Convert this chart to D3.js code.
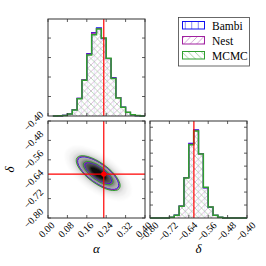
<!DOCTYPE html>
<html>
<head>
<meta charset="utf-8">
<script src="https://d3js.org/d3.v7.min.js"></script>
<style>
  body { margin: 0; background: #fff; }
  text { font-family: "Liberation Serif", "DejaVu Serif", serif; fill: #000; }
</style>
</head>
<body>
<div class="corner-chart"></div>
<script>
// histogram bins, alpha (density)
var alphaEdges = [0.02, 0.04, 0.06, 0.08, 0.10, 0.12, 0.14, 0.16, 0.18, 0.20, 0.22, 0.24, 0.26, 0.28, 0.30, 0.32, 0.34, 0.36, 0.38, 0.40];
var alphaBambi = [0, 0.02, 0.07, 0.22, 0.66, 1.82, 3.72, 6.40, 8.55, 9.05, 7.95, 5.90, 3.95, 1.90, 0.92, 0.36, 0.13, 0.04, 0];
var alphaNest  = [0, 0.02, 0.06, 0.21, 0.64, 1.80, 3.70, 6.35, 8.50, 8.98, 7.98, 5.88, 3.88, 1.88, 0.90, 0.38, 0.14, 0.04, 0];
var alphaMCMC  = [0, 0.02, 0.06, 0.20, 0.62, 1.76, 3.66, 6.26, 8.34, 8.92, 8.00, 5.92, 3.84, 1.86, 0.90, 0.38, 0.14, 0.04, 0];

// histogram bins, delta (density)
var deltaEdges = [-0.80, -0.78, -0.76, -0.74, -0.72, -0.70, -0.68, -0.66, -0.64, -0.62, -0.60, -0.58, -0.56, -0.54, -0.52, -0.50, -0.48, -0.46, -0.44, -0.42, -0.40];
var deltaBambi = [0, 0, 0, 0, 0.10, 0.45, 1.85, 6.25, 11.5, 13.6, 9.95, 4.65, 1.65, 0.40, 0.10, 0, 0, 0, 0, 0];
var deltaNest  = [0, 0, 0, 0, 0.10, 0.42, 1.82, 6.20, 11.4, 13.5, 9.90, 4.70, 1.72, 0.42, 0.10, 0, 0, 0, 0, 0];
var deltaMCMC  = [0, 0, 0, 0, 0.10, 0.41, 1.80, 6.17, 11.3, 13.4, 9.87, 4.73, 1.70, 0.41, 0.10, 0, 0, 0, 0, 0];

// 2d density, read as nested levels (semi axes in alpha units)
var densCenter = [0.207, -0.615];
var densTilt = 36;
var densLevel = [0.06, 0.14, 0.26, 0.42, 0.58, 0.76, 0.97];
var densMajor = [0.160, 0.140, 0.122, 0.104, 0.084, 0.064, 0.044];
var densMinor = [0.074, 0.062, 0.051, 0.042, 0.034, 0.026, 0.018];

// contours per method: [outer, inner]
var contMajor = { Bambi: [0.101, 0.066], Nest: [0.104, 0.069], MCMC: [0.108, 0.073] };
var contMinor = { Bambi: [0.039, 0.025], Nest: [0.040, 0.026], MCMC: [0.042, 0.028] };

var truth = [0.23, -0.619];
var alphaTicks = [0.00, 0.08, 0.16, 0.24, 0.32, 0.40];
var deltaTicks = [-0.80, -0.72, -0.64, -0.56, -0.48, -0.40];
var methods = ["Bambi", "Nest", "MCMC"];

var width = 266, height = 266;
var svg = d3.select(".corner-chart").append("svg")
    .attr("width", width).attr("height", height);

var colors = { Bambi: "#1010f0", Nest: "#a020a0", MCMC: "#2f9f2f" };
var hatchColor = { Bambi: "#d0d0f8", Nest: "#cf9acf", MCMC: "#9ccc9c" };

// panels
var c0 = 48, c1 = 150, r0 = 19, r1 = 121, size = 97;

var xA = d3.scaleLinear().domain([0, 0.4]).range([c0, c0 + size]);
var yD = d3.scaleLinear().domain([-0.8, -0.4]).range([r1 + size, r1]);
var xD = d3.scaleLinear().domain([-0.8, -0.4]).range([c1, c1 + size]);
var yHa = d3.scaleLinear().domain([0, 1.1 * d3.max(alphaBambi.concat(alphaNest, alphaMCMC))]).range([r0 + size, r0]);
var yHd = d3.scaleLinear().domain([0, 1.1 * d3.max(deltaBambi.concat(deltaNest, deltaMCMC))]).range([r1 + size, r1]);

var defs = svg.append("defs");
function hatch(id, color, kind, w) {
  var p = defs.append("pattern").attr("id", id)
      .attr("patternUnits", "userSpaceOnUse").attr("width", 6.5).attr("height", 6.5);
  var n = 6.5, segs;
  if (kind == "|") segs = [[n / 2, 0, n / 2, n]];
  else if (kind == "/") segs = [[0, n, n, 0], [-1, 1, 1, -1], [n - 1, n + 1, n + 1, n - 1]];
  else segs = [[0, 0, n, n], [n - 1, -1, n + 1, 1], [-1, n - 1, 1, n + 1]];
  segs.forEach(function(s) {
    p.append("line").attr("x1", s[0]).attr("y1", s[1]).attr("x2", s[2]).attr("y2", s[3])
      .attr("stroke", color).attr("stroke-width", w);
  });
}
hatch("h-Bambi", hatchColor.Bambi, "|", 0.4);
hatch("h-Nest", hatchColor.Nest, "/", 0.7);
hatch("h-MCMC", hatchColor.MCMC, "\\", 0.7);
hatch("l-Bambi", "#5a5af0", "|", 0.7);
hatch("l-Nest", "#c98ac9", "/", 0.8);
hatch("l-MCMC", "#8cc68c", "\\", 0.8);
defs.append("filter").attr("id", "blur").attr("x", "-20%").attr("y", "-20%").attr("width", "140%").attr("height", "140%")
  .append("feGaussianBlur").attr("stdDeviation", 1.0);
defs.append("clipPath").attr("id", "clip2d").append("rect")
  .attr("x", c0).attr("y", r1).attr("width", size).attr("height", size);

function stepPath(edges, vals, x, y) {
  var pts = [[edges[0], 0]];
  vals.forEach(function(v, i) { pts.push([edges[i], v]); pts.push([edges[i + 1], v]); });
  pts.push([edges[edges.length - 1], 0]);
  return d3.line().x(function(d) { return x(d[0]); }).y(function(d) { return y(d[1]); })(pts);
}

function drawHist(edges, series, x, y) {
  var g = svg.append("g");
  methods.forEach(function(m) {
    g.append("path").attr("d", stepPath(edges, series[m], x, y))
      .attr("fill", "url(#h-" + m + ")").attr("stroke", "none");
  });
  methods.forEach(function(m) {
    g.append("path").attr("d", stepPath(edges, series[m], x, y))
      .attr("fill", "none").attr("stroke", colors[m])
      .attr("stroke-width", m == "MCMC" ? 1.5 : 1.2);
  });
}

drawHist(alphaEdges, { Bambi: alphaBambi, Nest: alphaNest, MCMC: alphaMCMC }, xA, yHa);
drawHist(deltaEdges, { Bambi: deltaBambi, Nest: deltaNest, MCMC: deltaMCMC }, xD, yHd);

// 2d panel
var k = xA(1) - xA(0);
var cx = xA(densCenter[0]), cy = yD(densCenter[1]);
var grey = d3.scaleSequential(d3.interpolateGreys).domain([0, 1]);
var g2 = svg.append("g").attr("clip-path", "url(#clip2d)");
var dens = g2.append("g").attr("filter", "url(#blur)");
densLevel.forEach(function(l, i) {
  dens.append("ellipse").attr("cx", cx).attr("cy", cy)
    .attr("rx", densMajor[i] * k).attr("ry", densMinor[i] * k)
    .attr("transform", "rotate(" + densTilt + "," + cx + "," + cy + ")")
    .attr("fill", grey(l));
});
methods.forEach(function(m) {
  contMajor[m].forEach(function(a, i) {
    g2.append("ellipse").attr("cx", cx).attr("cy", cy)
      .attr("rx", a * k).attr("ry", contMinor[m][i] * k)
      .attr("transform", "rotate(" + densTilt + "," + cx + "," + cy + ")")
      .attr("fill", "none").attr("stroke", colors[m]).attr("stroke-width", 0.9);
  });
});
g2.append("line").attr("x1", xA(truth[0])).attr("x2", xA(truth[0]))
  .attr("y1", r1).attr("y2", r1 + size).attr("stroke", "#ff0000").attr("stroke-width", 1.2);
g2.append("line").attr("x1", c0).attr("x2", c0 + size)
  .attr("y1", yD(truth[1])).attr("y2", yD(truth[1])).attr("stroke", "#ff0000").attr("stroke-width", 1.2);
g2.append("circle").attr("cx", xA(truth[0])).attr("cy", yD(truth[1])).attr("r", 2.6).attr("fill", "#ff0000");

// truth lines on histograms
svg.append("line").attr("x1", xA(truth[0])).attr("x2", xA(truth[0]))
  .attr("y1", r0).attr("y2", r0 + size).attr("stroke", "#ff0000").attr("stroke-width", 1.2);
svg.append("line").attr("x1", xD(truth[1])).attr("x2", xD(truth[1]))
  .attr("y1", r1).attr("y2", r1 + size).attr("stroke", "#ff0000").attr("stroke-width", 1.2);

// frames with inward ticks on all sides
function frame(x0, y0, xs, xt, ys, yt) {
  var g = svg.append("g").attr("stroke", "#333").attr("stroke-width", 0.8);
  xt.forEach(function(t) {
    var px = xs(t);
    g.append("line").attr("x1", px).attr("x2", px).attr("y1", y0 + size).attr("y2", y0 + size - 3);
    g.append("line").attr("x1", px).attr("x2", px).attr("y1", y0).attr("y2", y0 + 3);
  });
  yt.forEach(function(t) {
    var py = ys(t);
    g.append("line").attr("x1", x0).attr("x2", x0 + 3).attr("y1", py).attr("y2", py);
    g.append("line").attr("x1", x0 + size).attr("x2", x0 + size - 3).attr("y1", py).attr("y2", py);
  });
  g.append("rect").attr("x", x0).attr("y", y0).attr("width", size).attr("height", size)
    .attr("fill", "none").attr("stroke", "#333").attr("stroke-width", 1);
}
frame(c0, r0, xA, alphaTicks, yHa, d3.range(2, yHa.domain()[1], 2));
frame(c0, r1, xA, alphaTicks, yD, deltaTicks);
frame(c1, r1, xD, deltaTicks, yHd, d3.range(2, yHd.domain()[1], 2));

// rotated tick labels
var fmt = function(v) { return d3.format(".2f")(v).replace("-", "\u2212"); };
var fs = 10, s2 = Math.SQRT2;
function xLabels(ticks, xs) {
  ticks.forEach(function(t) {
    var txt = svg.append("text").attr("font-size", fs).attr("text-anchor", "middle")
      .attr("dominant-baseline", "central").text(fmt(t));
    var L = txt.node().getComputedTextLength();
    var px = xs(t) - 1.5, py = r1 + size + 3 + (L + 7) / (2 * s2);
    txt.attr("transform", "translate(" + px + "," + py + ") rotate(-45)");
  });
}
xLabels(alphaTicks, xA);
xLabels(deltaTicks, xD);
deltaTicks.forEach(function(t) {
  var txt = svg.append("text").attr("font-size", fs).attr("text-anchor", "middle")
    .attr("dominant-baseline", "central").text(fmt(t));
  var L = txt.node().getComputedTextLength();
  var px = c0 - 4 - (L + 7) / (2 * s2), py = yD(t);
  txt.attr("transform", "translate(" + px + "," + py + ") rotate(-45)");
});

// axis labels
svg.append("text").attr("x", c0 + size / 2).attr("y", 253).attr("text-anchor", "middle")
  .attr("font-size", 13).attr("font-style", "italic").text("\u03b1");
svg.append("text").attr("x", c1 + size / 2).attr("y", 253).attr("text-anchor", "middle")
  .attr("font-size", 13).attr("font-style", "italic").text("\u03b4");
svg.append("text").attr("transform", "translate(14," + (r1 + size / 2) + ") rotate(-90)")
  .attr("text-anchor", "middle").attr("font-size", 13).attr("font-style", "italic").text("\u03b4");

// legend
var lg = svg.append("g");
lg.append("rect").attr("x", 178.5).attr("y", 17.5).attr("width", 71).attr("height", 48.5)
  .attr("fill", "#fff").attr("stroke", "#444").attr("stroke-width", 0.8);
methods.forEach(function(m, i) {
  var y = 21.5 + i * 15;
  lg.append("rect").attr("x", 182.5).attr("y", y).attr("width", 22).attr("height", 7.5)
    .attr("fill", "url(#l-" + m + ")").attr("stroke", colors[m]).attr("stroke-width", 1);
  lg.append("text").attr("x", 212).attr("y", y + 8).attr("font-size", 11.5).text(m);
});
</script>
</body>
</html>
